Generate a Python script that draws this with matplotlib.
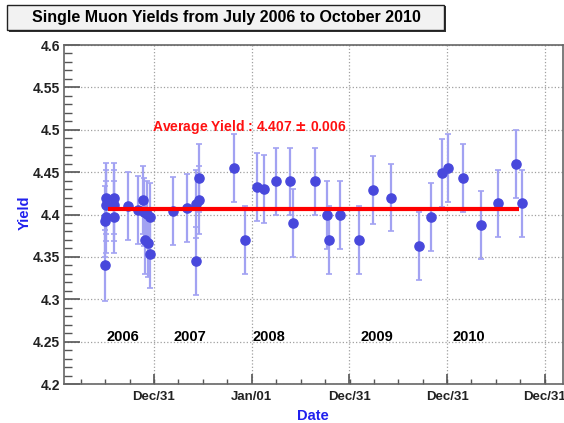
import numpy as np
import pandas as pd
import matplotlib
matplotlib.use('Agg')
import matplotlib.pyplot as plt
import matplotlib.dates as mdates
from matplotlib.patches import Rectangle

plt.rcParams['font.family'] = ['Liberation Sans', 'DejaVu Sans']
plt.rcParams['font.weight'] = 'bold'

# run dates, measured yields and their errors
dates = ['2006-07-02', '2006-07-03', '2006-07-04', '2006-07-05', '2006-07-06',
         '2006-08-03', '2006-08-04', '2006-08-05', '2006-09-26', '2006-11-02',
         '2006-11-20', '2006-11-24', '2006-11-28', '2006-12-05', '2006-12-09',
         '2006-12-16', '2006-12-17', '2007-03-13', '2007-05-04', '2007-06-07',
         '2007-06-05', '2007-06-18', '2007-06-19', '2007-10-27', '2007-12-07',
         '2008-01-20', '2008-02-15', '2008-04-01', '2008-05-23', '2008-06-03',
         '2008-08-24', '2008-10-09', '2008-10-16', '2008-11-26', '2009-02-05',
         '2009-03-30', '2009-06-05', '2009-09-18', '2009-11-01', '2009-12-12',
         '2010-01-04', '2010-03-01', '2010-05-07', '2010-07-10', '2010-09-15',
         '2010-10-08']
yields = [4.340, 4.392, 4.397, 4.411, 4.419,
          4.397, 4.411, 4.419, 4.410, 4.405,
          4.417, 4.403, 4.370, 4.400, 4.366,
          4.353, 4.397, 4.404, 4.408, 4.345,
          4.412, 4.417, 4.443, 4.455, 4.370,
          4.432, 4.430, 4.439, 4.439, 4.390,
          4.439, 4.399, 4.370, 4.399, 4.370,
          4.429, 4.420, 4.363, 4.397, 4.449,
          4.455, 4.443, 4.388, 4.413, 4.460,
          4.413]
errors = [0.042] * 8 + [0.040] * 38

avg_yield = 4.407
avg_err = 0.006
avg_span = ['2006-07-12', '2010-09-24']

year_labels = ['2006', '2007', '2008', '2009', '2010']
year_label_dates = ['2006-09-06', '2007-05-15', '2008-03-03', '2009-04-12', '2010-03-22']

major_ticks = ['2006-12-31', '2008-01-01', '2008-12-31', '2009-12-31', '2010-12-31']

x = pd.to_datetime(dates)

fig = plt.figure(figsize=(5.64, 4.23), dpi=100)
ax = fig.add_axes([64 / 564, 39 / 423, 499 / 564, 339 / 423])

ax.errorbar(x, yields, yerr=errors, fmt='none', ecolor='#a2a2f2', elinewidth=1.6,
            capsize=2.5, capthick=1.2, zorder=2)
ax.plot(x, yields, 'o', color='#4848dc', markersize=6.6, zorder=3)

ax.plot(pd.to_datetime(avg_span), [avg_yield, avg_yield], color='#ff0000', lw=3, zorder=4,
        solid_capstyle='butt')
ax.text(pd.Timestamp('2006-12-24'), 4.503,
        f'Average Yield : {avg_yield:.3f} $\\pm$ {avg_err:.3f}',
        color='#ff1010', fontsize=10, fontweight='bold', va='center', ha='left')

for lab, d in zip(year_labels, year_label_dates):
    ax.text(pd.Timestamp(d), 4.256, lab, fontsize=10.5, fontweight='bold',
            ha='center', va='center', color='black')

ax.set_xlim(pd.Timestamp('2006-01-29'), pd.Timestamp('2011-03-09'))
ax.set_ylim(4.2, 4.6)

ax.set_xticks(pd.to_datetime(major_ticks))
ax.xaxis.set_major_formatter(mdates.DateFormatter('%b/%d'))
ax.xaxis.set_minor_locator(mdates.MonthLocator(bymonth=[1, 4, 7, 10]))
ax.set_yticks(np.arange(4.2, 4.601, 0.05))
ax.set_yticklabels([f'{v:g}' for v in np.round(np.arange(4.2, 4.601, 0.05), 2)])
ax.set_yticks(np.arange(4.2, 4.601, 0.01), minor=True)

ax.tick_params(axis='y', which='major', direction='in', length=11.5, width=1.2,
               color='#555555', labelsize=10, pad=3)
ax.tick_params(axis='y', which='minor', direction='in', length=5.8, width=1.0, color='#555555')
ax.tick_params(axis='x', which='major', direction='in', length=7, width=1.2,
               color='#555555', labelsize=9.5, pad=5)
ax.tick_params(axis='x', which='minor', direction='in', length=3.6, width=1.0, color='#555555')
for lbl in ax.get_xticklabels() + ax.get_yticklabels():
    lbl.set_fontweight('bold')
    lbl.set_color('#222222')

ax.grid(True, which='major', linestyle=':', color='#a0a0a0', lw=0.9)
ax.set_axisbelow(True)
for s in ax.spines.values():
    s.set_color('#666666')
    s.set_linewidth(1.2)

fig.text(313 / 564, 1 - 416 / 423, 'Date', color='#2020ee', fontsize=10.5,
         fontweight='bold', ha='center', va='center')
fig.text(25 / 564, 1 - 213 / 423, 'Yield', color='#2020ee', fontsize=10.5,
         fontweight='bold', ha='center', va='center', rotation=90)

# title box with shadow
fig.patches.append(Rectangle((9 / 564, 1 - 32 / 423), 437 / 564, 26 / 423,
                             transform=fig.transFigure, facecolor='#333333',
                             edgecolor='none', zorder=1))
fig.patches.append(Rectangle((7 / 564, 1 - 30 / 423), 437 / 564, 25 / 423,
                             transform=fig.transFigure, facecolor='#f2f2f2',
                             edgecolor='#222222', lw=1.0, zorder=2))
fig.text(226 / 564, 1 - 17.5 / 423, 'Single Muon Yields from July 2006 to October 2010',
         fontsize=11.5, fontweight='bold', ha='center', va='center', color='black', zorder=3)

fig.savefig('out.png', dpi=100)
